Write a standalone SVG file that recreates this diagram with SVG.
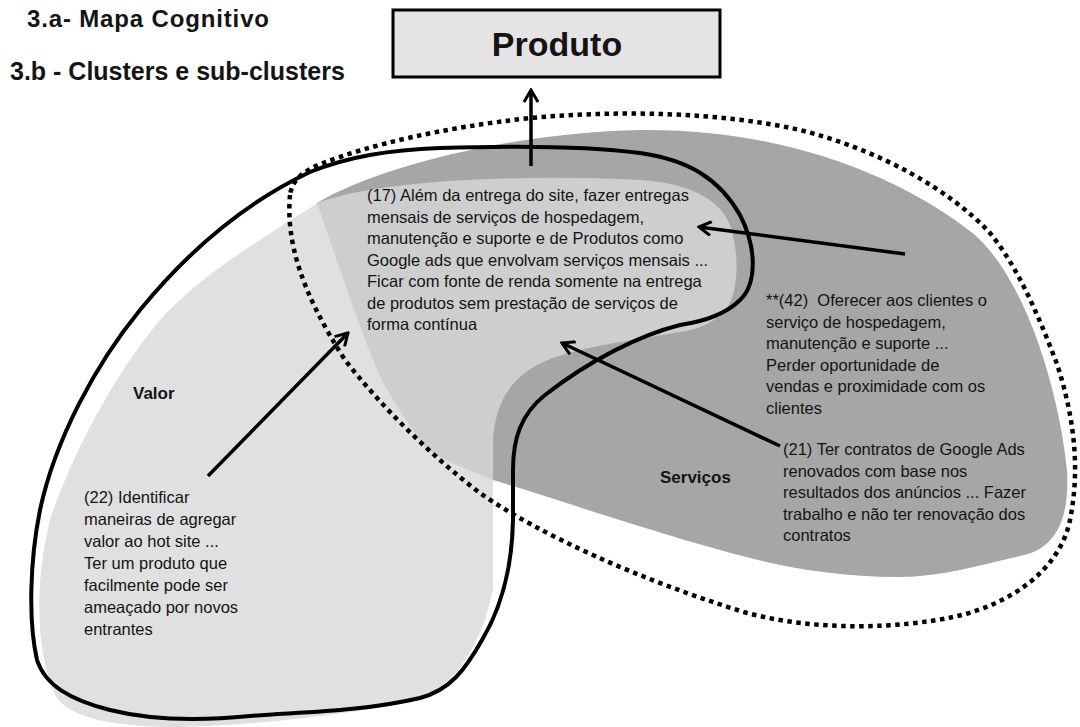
<svg xmlns="http://www.w3.org/2000/svg" width="1080" height="727" viewBox="0 0 1080 727">
  <defs>
    <style>
      .txt { font-family: "Liberation Sans", Arial, sans-serif; font-size: 16.5px; fill: #141414; }
      .lbl { font-family: "Liberation Sans", Arial, sans-serif; font-weight: bold; fill: #141414; }
      .conn { stroke: #000; stroke-width: 3.5; fill: none; marker-end: url(#head); }
      .outline { stroke: #000; stroke-width: 4; fill: none; }
      .dotted { stroke: #000; stroke-width: 4.5; fill: none; stroke-dasharray: 4.5 4.5; }
    </style>
    <marker id="head" viewBox="-14 -8 16 16" markerWidth="16" markerHeight="16" refX="0" refY="0" orient="auto" markerUnits="userSpaceOnUse">
      <path d="M -12,-7 L 0,0 L -12,7" fill="none" stroke="#000" stroke-width="3"/>
    </marker>
  </defs>

  <rect width="1080" height="727" fill="#fff"/>

  <!-- Titles -->
  <g id="titles">
    <text class="lbl" x="27" y="27" font-size="24" textLength="242" lengthAdjust="spacing">3.a- Mapa Cognitivo</text>
    <text class="lbl" x="10" y="80" font-size="25">3.b - Clusters e sub-clusters</text>
  </g>

  <!-- Cluster areas -->
  <g id="clusters">
    <!-- Valor (light) -->
    <path id="area-valor" fill="#e0e0e0" d="M 322,200 C 260,240 200,275 160,320 C 110,380 70,460 50,520 C 35,580 35,650 55,695 C 70,720 120,727 180,727 C 260,725 340,715 410,702 C 450,690 470,660 485,620 L 493,590 L 493,480 L 425,447 Z"/>
    <!-- Serviços (dark) -->
    <path id="area-servicos" fill="#a6a6a6" d="M 317,203 C 380,165 520,132 640,130 C 780,128 900,175 975,235 C 1030,285 1060,400 1067,470 C 1070,520 1055,550 1020,556 C 980,565 940,577 900,577 C 840,577 790,568 750,558 C 660,535 560,500 493,480 L 425,447 Z"/>
    <!-- Overlap zone around node 17 -->
    <path id="area-17" fill="#cecece" d="M 317,203 C 380,180 520,174 640,180 C 690,183 720,200 730,225 C 740,255 740,300 720,316 C 705,326 695,330 680,332 C 620,342 560,350 532,368 C 505,385 495,410 493,440 L 493,480 C 470,470 440,460 425,447 C 405,420 385,390 373,360 C 355,315 335,255 317,203 Z"/>
  </g>

  <!-- Cluster boundaries -->
  <g id="boundaries">
    <path class="dotted" d="M 290,195 C 286,240 300,290 345,360 C 380,405 430,455 480,493 C 540,535 640,580 747,613 C 820,632 900,628 953,617 C 1010,605 1060,570 1070,520 C 1080,470 1075,420 1057,364 C 1040,320 1020,270 990,233 C 950,190 880,150 800,130 C 720,112 620,110 530,118 C 440,128 370,145 323,163 C 300,172 292,182 290,195 Z"/>
    <path class="outline" d="M 440,148 C 500,146 580,145 640,153 C 690,160 720,180 740,215 C 758,250 756,285 740,300 C 725,315 700,322 680,325 C 640,335 590,360 545,395 C 520,415 513,440 513,470 L 513,520 C 512,570 500,610 482,640 C 465,670 450,690 420,698 C 360,712 300,712 250,716 C 200,721 150,720 110,710 C 70,700 45,685 37,660 C 28,620 30,560 40,510 C 55,440 95,365 140,310 C 185,255 240,205 310,172 C 350,156 390,150 440,148 Z"/>
  </g>

  <!-- Top node -->
  <g id="node-produto">
    <rect x="393" y="10" width="327" height="67" fill="#e4e4e4" stroke="#000" stroke-width="3"/>
    <text class="lbl" x="557" y="56" font-size="34" text-anchor="middle">Produto</text>
  </g>

  <!-- Connectors -->
  <g id="connectors">
    <line class="conn" x1="531" y1="166" x2="531" y2="90"/>
    <line class="conn" x1="905" y1="254" x2="699" y2="227"/>
    <line class="conn" x1="780" y1="446" x2="562" y2="343"/>
    <line class="conn" x1="208" y1="476" x2="348" y2="333"/>
  </g>

  <!-- Concept nodes -->
  <g id="node-17">
    <text class="txt" x="367" y="201">(17) Além da entrega do site, fazer entregas</text>
    <text class="txt" x="367" y="222.5">mensais de serviços de hospedagem,</text>
    <text class="txt" x="367" y="244">manutenção e suporte e de Produtos como</text>
    <text class="txt" x="367" y="265.5">Google ads que envolvam serviços mensais ...</text>
    <text class="txt" x="367" y="287">Ficar com fonte de renda somente na entrega</text>
    <text class="txt" x="367" y="308.5">de produtos sem prestação de serviços de</text>
    <text class="txt" x="367" y="330">forma contínua</text>
  </g>

  <g id="node-42">
    <text class="txt" x="766" y="306">**(42)&#160; Oferecer aos clientes o</text>
    <text class="txt" x="766" y="327.5">serviço de hospedagem,</text>
    <text class="txt" x="766" y="349">manutenção e suporte ...</text>
    <text class="txt" x="766" y="370.5">Perder oportunidade de</text>
    <text class="txt" x="766" y="392">vendas e proximidade com os</text>
    <text class="txt" x="766" y="413.5">clientes</text>
  </g>

  <g id="node-21">
    <text class="txt" x="783" y="455">(21) Ter contratos de Google Ads</text>
    <text class="txt" x="783" y="476.5">renovados com base nos</text>
    <text class="txt" x="783" y="498">resultados dos anúncios ... Fazer</text>
    <text class="txt" x="783" y="519.5">trabalho e não ter renovação dos</text>
    <text class="txt" x="783" y="541">contratos</text>
  </g>

  <g id="node-22">
    <text class="txt" x="84" y="503">(22) Identificar</text>
    <text class="txt" x="84" y="525">maneiras de agregar</text>
    <text class="txt" x="84" y="547">valor ao hot site ...</text>
    <text class="txt" x="84" y="569">Ter um produto que</text>
    <text class="txt" x="84" y="591">facilmente pode ser</text>
    <text class="txt" x="84" y="613">ameaçado por novos</text>
    <text class="txt" x="84" y="635">entrantes</text>
  </g>

  <!-- Cluster labels -->
  <g id="label-valor">
    <text class="lbl" x="133" y="399" font-size="17">Valor</text>
  </g>
  <g id="label-servicos">
    <text class="lbl" x="660" y="483" font-size="17">Serviços</text>
  </g>
</svg>
